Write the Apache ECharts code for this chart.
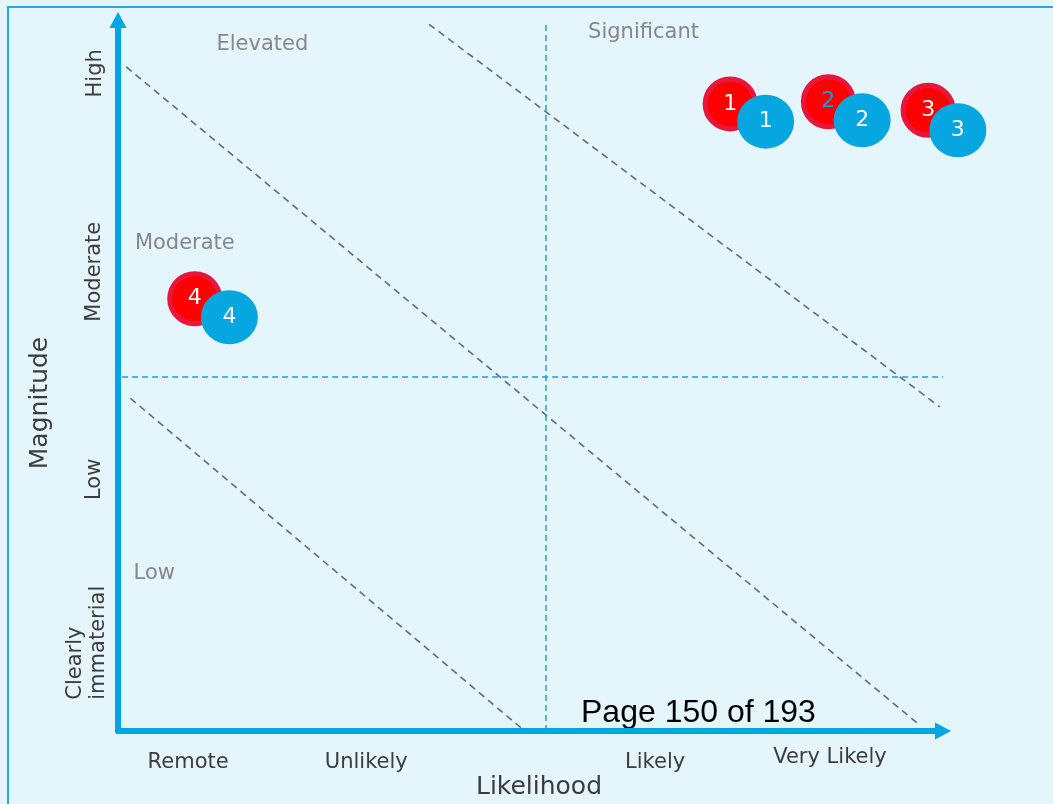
<!DOCTYPE html>
<html>
<head>
<meta charset="utf-8">
<title>Risk matrix</title>
<script src="https://cdn.jsdelivr.net/npm/echarts@6/dist/echarts.min.js"></script>
<style>
    html, body { margin: 0; padding: 0; background: #e5f5fc; }
    #chart { width: 1053px; height: 804px; }
</style>
</head>
<body>
<div id="chart"></div>
<script>
// risk items: red = earlier assessment, blue = current one
var riskIds = ['1', '2', '3', '4'];
var redLikelihood = [74.2, 86.1, 98.2, 9.3];
var redMagnitude = [88.2, 88.5, 87.3, 60.8];
var blueLikelihood = [78.5, 90.2, 101.8, 13.5];
var blueMagnitude = [85.7, 85.9, 84.5, 58.2];

// axis categories (placed in data units)
var likelihoodLabels = ['Remote', 'Unlikely', 'Likely', 'Very Likely'];
var likelihoodAt = [8.5, 30.1, 65.1, 86.3];
var likelihoodRow = [-4.4, -4.4, -4.4, -3.8];
var magnitudeLabels = ['High', 'Moderate', 'Low', 'Clearly\nimmaterial'];
var magnitudeAt = [92.5, 64.6, 35.4, 4.4];
var magnitudeCol = [-2.7, -2.9, -2.9, -3.8];

// zone names
var zoneLabels = ['Elevated', 'Significant', 'Moderate', 'Low'];
var zoneX = [17.5, 63.7, 8.1, 4.4];
var zoneY = [96.5, 98.3, 68.6, 22.1];

// zone boundaries, [x1, y1, x2, y2]
var zoneLines = [
    [1.0, 93.4, 97.2, 0.8],
    [37.7, 99.4, 99.6, 45.6],
    [1.5, 46.8, 48.9, 0.4]
];
var splitX = 51.8;
var splitY = 49.8;

var font = 'DejaVu Sans';

function pairs(xs, ys) {
    return xs.map(function (x, i) { return [x, ys[i]]; });
}

function textPoints(names, xs, ys) {
    return names.map(function (n, i) { return { name: n, value: [xs[i], ys[i]] }; });
}

var redData = pairs(redLikelihood, redMagnitude).map(function (p, i) {
    var item = { name: riskIds[i], value: p };
    if (i === 1) item.label = { color: '#0aa2dc' };
    return item;
});
var blueData = pairs(blueLikelihood, blueMagnitude).map(function (p, i) {
    return { name: riskIds[i], value: p };
});

var magData = textPoints(magnitudeLabels, magnitudeCol, magnitudeAt);
magData[3].label = { align: 'left' };

var axisLine = {
    show: true,
    symbol: ['none', 'triangle'],
    symbolSize: [17, 16],
    lineStyle: { color: '#00a5e3', width: 6 }
};

// invisible anchor for text-only scatter points
var textAnchor = { color: 'rgba(0,0,0,0)', opacity: 1 };

var charts = echarts.init(document.getElementById('chart'));
charts.setOption({
    animation: false,
    backgroundColor: '#e5f5fc',
    grid: { left: 118, right: 110, top: 20, bottom: 73 },
    xAxis: {
        type: 'value', min: 0, max: 100,
        axisLine: axisLine,
        axisTick: { show: false }, axisLabel: { show: false }, splitLine: { show: false }
    },
    yAxis: {
        type: 'value', min: 0, max: 100,
        axisLine: axisLine,
        axisTick: { show: false }, axisLabel: { show: false }, splitLine: { show: false }
    },
    graphic: [
        { type: 'rect', z: -1, shape: { x: 8, y: 7, width: 1200, height: 900 },
          style: { fill: 'none', stroke: '#2aa8dc', lineWidth: 2 } },
        { type: 'text', x: 539, y: 787,
          style: { text: 'Likelihood', font: '25px "DejaVu Sans"', fill: '#3c3c3c', align: 'center', verticalAlign: 'middle' } },
        { type: 'text', x: 40, y: 403, rotation: Math.PI / 2,
          style: { text: 'Magnitude', font: '25px "DejaVu Sans"', fill: '#3c3c3c', align: 'center', verticalAlign: 'middle' } },
        { type: 'text', x: 581, y: 713,
          style: { text: 'Page 150 of 193', font: '32px "Liberation Sans"', fill: '#000000', align: 'left', verticalAlign: 'middle' } }
    ],
    series: [
        {
            type: 'lines', coordinateSystem: 'cartesian2d', silent: true,
            lineStyle: { color: '#5f6b7a', width: 1.6, type: [7, 5], opacity: 1 },
            data: zoneLines.map(function (l) { return { coords: [[l[0], l[1]], [l[2], l[3]]] }; })
        },
        {
            type: 'lines', coordinateSystem: 'cartesian2d', silent: true,
            lineStyle: { color: '#12a4da', width: 1.5, type: [6, 4], opacity: 1 },
            data: [
                { coords: [[splitX, 99.3], [splitX, 0.1]] },
                { coords: [[0.5, splitY], [100, splitY]] }
            ]
        },
        {
            type: 'scatter', clip: false, symbolSize: 50,
            itemStyle: { color: '#ff0000', borderColor: '#e8163c', borderWidth: 5, opacity: 1 },
            label: { show: true, position: 'inside', formatter: '{b}', color: '#ffffff', fontFamily: font, fontSize: 22 },
            data: redData
        },
        {
            type: 'scatter', clip: false, symbolSize: [57, 54],
            itemStyle: { color: '#06a6e0', opacity: 1 },
            label: { show: true, position: 'inside', formatter: '{b}', color: '#ffffff', fontFamily: font, fontSize: 22 },
            data: blueData
        },
        {
            type: 'scatter', clip: false, symbolSize: 1, silent: true,
            itemStyle: textAnchor,
            label: { show: true, position: 'inside', formatter: '{b}', color: '#878787', fontFamily: font, fontSize: 21 },
            data: textPoints(zoneLabels, zoneX, zoneY)
        },
        {
            type: 'scatter', clip: false, symbolSize: 1, silent: true,
            itemStyle: textAnchor,
            label: { show: true, position: 'inside', formatter: '{b}', color: '#3c3c3c', fontFamily: font, fontSize: 21 },
            data: textPoints(likelihoodLabels, likelihoodAt, likelihoodRow)
        },
        {
            type: 'scatter', clip: false, symbolSize: 1, silent: true,
            itemStyle: textAnchor,
            label: { show: true, position: 'inside', formatter: '{b}', rotate: 90, color: '#3c3c3c',
                     fontFamily: font, fontSize: 21, lineHeight: 23 },
            data: magData
        }
    ]
});
window.addEventListener('resize', function () {
    charts.resize();
});
</script>
</body>
</html>
